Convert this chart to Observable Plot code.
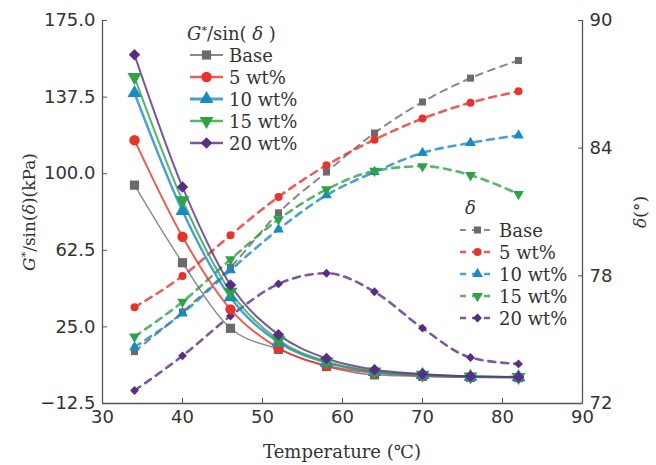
<!DOCTYPE html>
<html><head><meta charset="utf-8">
<script src="https://cdn.jsdelivr.net/npm/d3@7"></script>
<script src="https://cdn.jsdelivr.net/npm/@observablehq/plot@0.6"></script>
<style>
body{margin:0;background:#fff;}
#wrap{position:relative;width:656px;height:465px;}
#wrap svg{position:absolute;left:0;top:0;}
#wrap svg.overlay text{font-family:"DejaVu Serif","Liberation Serif",serif;}
</style></head><body><div id="wrap"></div>
<script>
// ---- data ----
const temps = [34, 40, 46, 52, 58, 64, 70, 76, 82];
const seriesNames = ["Base", "5 wt%", "10 wt%", "15 wt%", "20 wt%"];
// G*/sin(δ) (kPa)
const gBase = [94.4, 56.4, 24.3, 14.0, 5.6, 1.5, 0.8, 0.3, 0.2];
const g5    = [116.4, 69.1, 33.6, 14.6, 6.0, 2.5, 1.0, 0.5, 0.3];
const g10   = [139.5, 81.7, 39.5, 17.5, 7.5, 3.0, 1.5, 0.6, 0.4];
const g15   = [147.3, 87.0, 42.2, 18.5, 8.0, 3.2, 1.6, 0.7, 0.4];
const g20   = [158.2, 93.5, 45.5, 21.2, 9.5, 4.0, 2.0, 0.8, 0.5];
// δ (°)
const dBase = [74.44, 76.3, 78.4, 80.96, 82.88, 84.71, 86.17, 87.29, 88.12];
const d5    = [76.52, 77.99, 79.91, 81.71, 83.2, 84.4, 85.39, 86.14, 86.67];
const d10   = [74.65, 76.24, 78.27, 80.18, 81.79, 82.88, 83.78, 84.25, 84.6];
const d15   = [75.14, 76.78, 78.77, 80.65, 82.06, 82.93, 83.15, 82.73, 81.84];
const d20   = [72.61, 74.24, 76.11, 77.62, 78.12, 77.25, 75.54, 74.16, 73.86];
// ticks
const xTicks = [30, 40, 50, 60, 70, 80, 90];
const leftTicks = [-12.5, 25, 62.5, 100, 137.5, 175];
const rightTicks = [72, 78, 84, 90];
const xDomain = [30, 90];
const gDomain = [-12.5, 175];
const dDomain = [72, 90];

// ---- style ----
const colors = ["#6b6b6b", "#e8332c", "#1b8ac2", "#2ea345", "#5a2d85"];
const symbols = ["square", "circle", "triangle", "triangle", "diamond2"];
const rotations = [0, 0, 0, 180, 0];
const gWidths = [1.4, 2, 2.4, 2, 2];

const gSeries = [gBase, g5, g10, g15, g20];
const dSeries = [dBase, d5, d10, d15, d20];
const toLeft = d => gDomain[0] + (d - dDomain[0]) * (gDomain[1] - gDomain[0]) / (dDomain[1] - dDomain[0]);
const fromLeft = v => dDomain[0] + (v - gDomain[0]) * (dDomain[1] - dDomain[0]) / (gDomain[1] - gDomain[0]);

const gRows = [], dRows = [];
seriesNames.forEach((s, i) => {
  temps.forEach((t, j) => {
    gRows.push({s, i, t, v: gSeries[i][j]});
    dRows.push({s, i, t, v: toLeft(dSeries[i][j])});
  });
});

const fmt1 = d3.format(".1f");
const plot = Plot.plot({
  width: 656, height: 465,
  marginLeft: 102, marginRight: 74, marginTop: 20, marginBottom: 62,
  x: {domain: xDomain},
  y: {domain: gDomain},
  color: {domain: seriesNames, range: colors},
  symbol: {domain: seriesNames, range: symbols},
  style: {fontFamily: "DejaVu Sans", fontSize: "18px", color: "#333", background: "transparent"},
  marks: [
    Plot.axisX({ticks: xTicks, tickSize: -5, tickPadding: 12, label: null, stroke: "#555", tickFormat: d3.format("d")}),
    Plot.axisY({ticks: leftTicks, anchor: "left", tickSize: -5, tickPadding: 12, label: null, stroke: "#555", tickFormat: fmt1}),
    Plot.axisY(rightTicks.map(toLeft), {anchor: "right", tickSize: -5, tickPadding: 12, label: null, stroke: "#555", tickFormat: v => String(Math.round(fromLeft(v)))}),
    Plot.ruleX(xDomain, {stroke: "#555", strokeWidth: 1.3}),
    Plot.ruleY([gDomain[0]], {stroke: "#555", strokeWidth: 1.3}),
    // δ dashed lines
    Plot.line(dRows, {x: "t", y: "v", z: "s", stroke: "s", strokeWidth: d => d.i === 0 ? 2 : 2.6, strokeDasharray: "7,6", strokeOpacity: 0.8, curve: "monotone-x"}),
    Plot.dot(dRows, {x: "t", y: "v", fill: "s", symbol: "s", r: 4, rotate: d => rotations[d.i]}),
    // G* solid lines
    Plot.line(gRows, {x: "t", y: "v", z: "s", stroke: "s", strokeWidth: d => gWidths[d.i], strokeOpacity: 0.8, curve: "monotone-x"}),
    Plot.dot(gRows, {x: "t", y: "v", fill: "s", symbol: "s", r: 5.2, rotate: d => rotations[d.i]})
  ]
});
const wrap = document.getElementById("wrap");
wrap.appendChild(plot);

// ---- overlay: axis titles and legends ----
const svg = d3.select(wrap).append("svg")
  .attr("class", "overlay")
  .attr("width", 656).attr("height", 465)
  .style("pointer-events", "none");

// x title
svg.append("text").attr("x", 342).attr("y", 458).attr("text-anchor", "middle")
  .attr("font-size", 18).attr("fill", "#333").text("Temperature (℃)");
// left title
const lt = svg.append("text").attr("transform", "translate(35,212) rotate(-90)")
  .attr("text-anchor", "middle").attr("font-size", 17).attr("fill", "#333");
lt.append("tspan").attr("font-style", "italic").text("G");
lt.append("tspan").attr("baseline-shift", "super").attr("font-size", 11).text("*");
lt.append("tspan").text("/sin(");
lt.append("tspan").attr("font-style", "italic").text("δ");
lt.append("tspan").text(")(kPa)");
// right title
const rt = svg.append("text").attr("transform", "translate(646,212) rotate(-90)")
  .attr("text-anchor", "middle").attr("font-size", 17).attr("fill", "#333");
rt.append("tspan").attr("font-style", "italic").text("δ");
rt.append("tspan").text("(°)");

const symMap = {square: d3.symbolSquare, circle: d3.symbolCircle, triangle: d3.symbolTriangle, diamond2: d3.symbolDiamond2};

// legend 1 (G*/sin δ)
const l1 = svg.append("g");
const t1 = l1.append("text").attr("x", 187).attr("y", 40).attr("font-size", 18).attr("fill", "#333");
t1.append("tspan").attr("font-style", "italic").text("G");
t1.append("tspan").attr("baseline-shift", "super").attr("font-size", 11).text("*");
t1.append("tspan").text("/sin( ");
t1.append("tspan").attr("font-style", "italic").text("δ");
t1.append("tspan").text(" )");
seriesNames.forEach((s, i) => {
  const y = 55 + i * 22;
  l1.append("line").attr("x1", 190).attr("x2", 223).attr("y1", y).attr("y2", y)
    .attr("stroke", colors[i]).attr("stroke-width", gWidths[i] + 0.4).attr("stroke-opacity", 0.8);
  l1.append("path").attr("d", d3.symbol(symMap[symbols[i]], Math.PI * 5.2 * 5.2)())
    .attr("transform", `translate(206.5,${y}) rotate(${rotations[i]})`).attr("fill", colors[i]);
  l1.append("text").attr("x", 229).attr("y", y + 6.5).attr("font-size", 18).attr("fill", "#333").text(s);
});

// legend 2 (δ)
const l2 = svg.append("g");
l2.append("text").attr("x", 465).attr("y", 214).attr("font-size", 18).attr("font-style", "italic").attr("fill", "#333").text("δ");
seriesNames.forEach((s, i) => {
  const y = 230 + i * 22;
  l2.append("line").attr("x1", 459).attr("x2", 496).attr("y1", y).attr("y2", y)
    .attr("stroke", colors[i]).attr("stroke-width", i === 0 ? 2 : 2.6).attr("stroke-opacity", 0.8).attr("stroke-dasharray", "6,6").attr("stroke-dashoffset", -1);
  l2.append("path").attr("d", d3.symbol(symMap[symbols[i]], Math.PI * 4 * 4)())
    .attr("transform", `translate(477.5,${y}) rotate(${rotations[i]})`).attr("fill", colors[i]);
  l2.append("text").attr("x", 499).attr("y", y + 6.5).attr("font-size", 18).attr("fill", "#333").text(s);
});
</script></body></html>
